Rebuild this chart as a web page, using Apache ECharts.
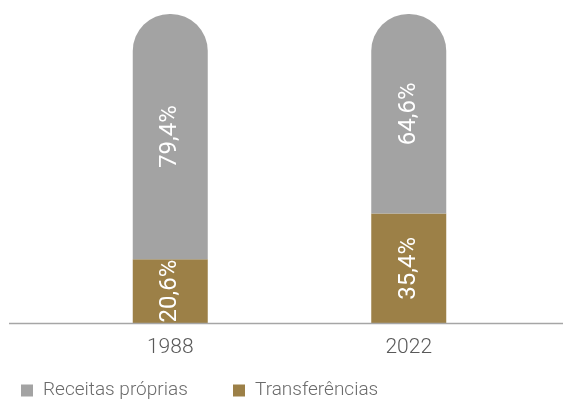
<!DOCTYPE html>
<html>
<head>
<meta charset="utf-8">
<script src="https://cdn.jsdelivr.net/npm/echarts@6/dist/echarts.min.js"></script>
<style>
  html, body { margin: 0; padding: 0; background: #fff; }
  #chart-container { width: 563px; height: 402px; }
</style>
</head>
<body>
<div id="chart-container"></div>
<script>
var years = ['1988', '2022'];
var transferencias = [20.6, 35.4];
var receitasProprias = [79.4, 64.6];

var font = 'Roboto, "Liberation Sans", sans-serif';

function pct(p) {
    return p.value.toFixed(1).replace('.', ',') + '%';
}

var legendText = { fontFamily: font, fontWeight: 300, fontSize: 19, color: '#6b6b6b', padding: [0, 0, 0, 5] };

var option = {
    animation: false,
    grid: {
        left: 51,
        right: 35,
        top: 14,
        bottom: 79
    },
    legend: [
        {
            data: ['Receitas próprias'],
            left: 21,
            top: 381,
            padding: 0,
            itemWidth: 12,
            itemHeight: 12,
            icon: 'rect',
            textStyle: legendText
        },
        {
            data: ['Transferências'],
            left: 233,
            top: 381,
            padding: 0,
            itemWidth: 12,
            itemHeight: 12,
            icon: 'rect',
            textStyle: legendText
        }
    ],
    xAxis: {
        type: 'category',
        data: years,
        axisLine: { show: false },
        axisTick: { show: false },
        axisLabel: {
            fontFamily: font,
            fontWeight: 300,
            fontSize: 21,
            color: '#595959',
            margin: 14
        }
    },
    yAxis: {
        type: 'value',
        min: 0,
        max: 100,
        show: false,
        splitLine: { show: false }
    },
    graphic: [
        {
            type: 'line',
            shape: { x1: 9, y1: 323.5, x2: 563, y2: 323.5 },
            style: { stroke: '#a6a6a6', lineWidth: 1.5 },
            z: 10
        }
    ],
    series: [
        {
            name: 'Transferências',
            type: 'bar',
            stack: 'total',
            barWidth: 75,
            data: transferencias,
            itemStyle: { color: '#9c8047' },
            label: {
                show: true,
                position: 'inside',
                rotate: 90,
                formatter: pct,
                fontFamily: font,
                fontSize: 24,
                color: '#ffffff'
            }
        },
        {
            name: 'Receitas próprias',
            type: 'bar',
            stack: 'total',
            barWidth: 75,
            data: receitasProprias,
            itemStyle: { color: '#a3a3a3', borderRadius: [37, 37, 0, 0] },
            label: {
                show: true,
                position: 'inside',
                rotate: 90,
                formatter: pct,
                fontFamily: font,
                fontSize: 24,
                color: '#ffffff'
            }
        }
    ]
};

var myChart = echarts.init(document.getElementById('chart-container'));
myChart.setOption(option);
</script>
</body>
</html>
